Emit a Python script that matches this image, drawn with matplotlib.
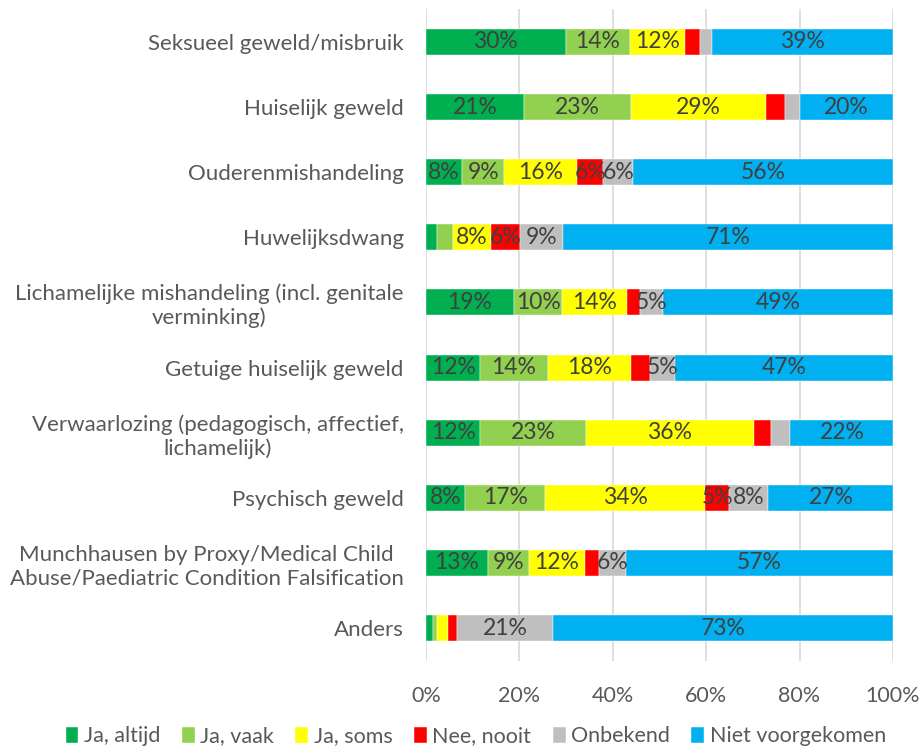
import numpy as np
import matplotlib
matplotlib.use('Agg')
import matplotlib.pyplot as plt

plt.rcParams['font.family'] = ['Lato', 'DejaVu Sans']

categories = ['Seksueel geweld/misbruik',
              'Huiselijk geweld',
              'Ouderenmishandeling',
              'Huwelijksdwang',
              'Lichamelijke mishandeling (incl. genitale\nverminking)',
              'Getuige huiselijk geweld',
              'Verwaarlozing (pedagogisch, affectief,\nlichamelijk)',
              'Psychisch geweld',
              'Munchhausen by Proxy/Medical Child\nAbuse/Paediatric Condition Falsification',
              'Anders']

series_names = ['Ja, altijd', 'Ja, vaak', 'Ja, soms', 'Nee, nooit', 'Onbekend', 'Niet voorgekomen']
colors = ['#00B050', '#92D050', '#FFFF00', '#FF0000', '#BFBFBF', '#00B0F0']

ja_altijd = [29.9, 21.0, 7.8, 2.4, 18.8, 11.6, 11.6, 8.4, 13.2, 1.4]
ja_vaak = [13.8, 22.9, 8.9, 3.3, 10.4, 14.5, 22.6, 17.1, 8.9, 0.9]
ja_soms = [11.8, 29.0, 15.7, 8.2, 13.8, 17.8, 36.1, 34.3, 11.9, 2.4]
nee_nooit = [3.2, 4.0, 5.6, 6.2, 2.9, 4.0, 3.6, 5.1, 3.0, 1.9]
onbekend = [2.5, 3.2, 6.3, 9.3, 4.8, 5.4, 4.1, 8.4, 5.8, 20.6]
niet_voorgekomen = [38.8, 19.9, 55.7, 70.6, 49.3, 46.7, 22.1, 26.8, 57.2, 72.8]

data = [ja_altijd, ja_vaak, ja_soms, nee_nooit, onbekend, niet_voorgekomen]

fig = plt.figure(figsize=(9.22, 7.53), dpi=100)
ax = fig.add_axes([0.462, 0.1227, 0.5065, 0.8648])

y = np.arange(len(categories))
left = np.zeros(len(categories))
for vals, name, col in zip(data, series_names, colors):
    vals = np.array(vals)
    ax.barh(y, vals, left=left, height=0.4, color=col, label=name,
            edgecolor='white', linewidth=0.3, zorder=3)
    for yi, v, l in zip(y, vals, left):
        if round(v) >= 5:
            ax.text(l + v / 2, yi, '%d%%' % round(v), ha='center', va='center',
                    fontsize=16.5, color='#404040', zorder=4)
    left += vals

ax.set_xlim(0, 100)
ax.set_ylim(len(categories) - 0.5, -0.5)
ax.set_xticks(np.arange(0, 101, 20))
ax.set_xticklabels(['%d%%' % t for t in range(0, 101, 20)])
ax.set_yticks(y)
ax.set_yticklabels(categories)
for lab in ax.get_yticklabels():
    lab.set_multialignment('center')
ax.tick_params(axis='x', length=0, pad=18, labelsize=15.5, labelcolor='#595959')
ax.tick_params(axis='y', length=0, pad=16, labelsize=16, labelcolor='#595959')
ax.grid(axis='x', color='#D9D9D9', linewidth=1.2, zorder=0)
for s in ax.spines.values():
    s.set_visible(False)

fig.legend(loc='center', bbox_to_anchor=(0.516, 0.022), ncol=6, frameon=False,
           fontsize=15.5, handlelength=0.6, handleheight=0.8, handletextpad=0.25,
           columnspacing=1.0, labelcolor='#595959')

plt.savefig('out.png', dpi=100)
